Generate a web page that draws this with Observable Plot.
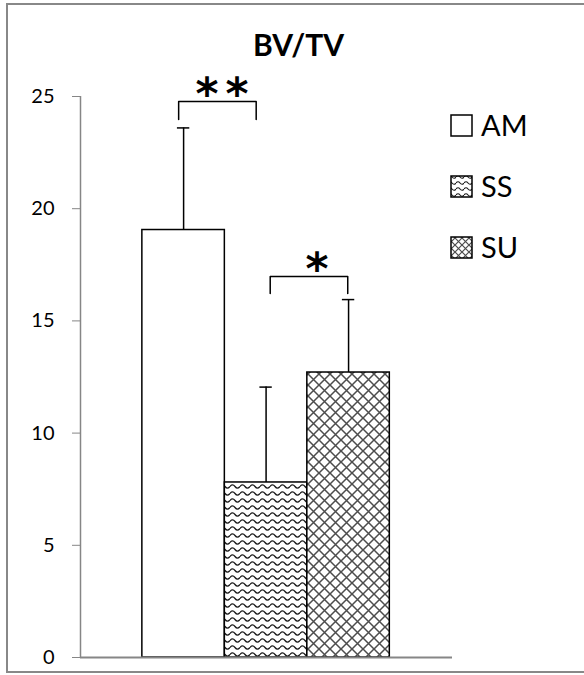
<!DOCTYPE html>
<html>
<head>
<meta charset="utf-8">
<script src="https://cdn.jsdelivr.net/npm/d3@7"></script>
<script src="https://cdn.jsdelivr.net/npm/@observablehq/plot@0.6"></script>
<style>
  html, body { margin: 0; padding: 0; background: #fff; }
  #chart svg { display: block; font-family: Lato, "Open Sans", sans-serif; }
</style>
</head>
<body>
<div id="chart"></div>
<script>
// ---- data ----
const categories = ["AM", "SS", "SU"];
const means = [19.05, 7.8, 12.7];
const errors = [4.55, 4.25, 3.25];
const yTicks = [0, 5, 10, 15, 20, 25];
const title = "BV/TV";
// significance brackets (x in category-index units)
const bracketFrom = [-0.06, 1.05];
const bracketTo = [0.88, 1.99];
const bracketTop = [24.78, 16.98];
const bracketLeg = [23.98, 16.22];
const bracketLabel = ["**", "*"];

// ---- derived tables ----
const bars = categories.map((c, i) => ({cat: c, i, mean: means[i], top: means[i] + errors[i]}));
const bracketPts = [];
bracketFrom.forEach((f, k) => {
  const t = bracketTo[k];
  bracketPts.push({k, x: f, y: bracketLeg[k]}, {k, x: f, y: bracketTop[k]},
                  {k, x: t, y: bracketTop[k]}, {k, x: t, y: bracketLeg[k]});
});
const bracketText = bracketLabel.map((l, k) => ({label: l, x: (bracketFrom[k] + bracketTo[k]) / 2, y: bracketTop[k]}));

const fills = ["white", "url(#pat-ss)", "url(#pat-su)"];
const xDomain = [-1.25, 3.26];
const capHalf = 0.075;

const chart = Plot.plot({
  width: 584,
  height: 675,
  marginLeft: 80,
  marginRight: 132,
  marginTop: 96,
  marginBottom: 18,
  style: {fontFamily: "Lato, 'Open Sans', sans-serif", background: "white", overflow: "visible"},
  x: {domain: xDomain, axis: null},
  y: {domain: [0, 25], axis: null},
  color: {domain: categories, range: fills},
  marks: [
    Plot.axisY({ticks: yTicks, tickSize: 8, tickPadding: 18, stroke: "#868686", fontSize: 20, color: "#000", label: null, tickFormat: d => d}),
    Plot.ruleX([xDomain[0]], {stroke: "#868686", strokeWidth: 1.5}),
    Plot.rectY(bars, {x1: d => d.i - 0.5, x2: d => d.i + 0.5, y: "mean", fill: "cat", stroke: "black", strokeWidth: 1.5}),
    Plot.ruleY([0], {stroke: "#868686", strokeWidth: 1.8}),
    Plot.ruleX(bars, {x: "i", y1: "mean", y2: "top", stroke: "black", strokeWidth: 1.5}),
    Plot.ruleY(bars, {y: "top", x1: d => d.i - capHalf, x2: d => d.i + capHalf, stroke: "black", strokeWidth: 1.5}),
    Plot.line(bracketPts, {x: "x", y: "y", z: "k", stroke: "black", strokeWidth: 1.5}),
    Plot.text(bracketText, {x: "x", y: "y", text: "label", fontFamily: "'DejaVu Sans'", fontSize: 44, fontWeight: "bold", dx: 8, dy: 8, lineAnchor: "bottom", fill: "black"}),
    Plot.text([title], {frameAnchor: "top", dx: 32, dy: -41, fontSize: 30, fontWeight: "bold", fill: "black", lineAnchor: "bottom"})
  ]
});

const svg = d3.select(chart);
svg.selectAll("text").filter(function() { return this.textContent === "**"; }).attr("letter-spacing", 7);

const defs = svg.insert("defs", ":first-child");
const ss = defs.append("pattern").attr("id", "pat-ss").attr("patternUnits", "userSpaceOnUse")
  .attr("width", 10).attr("height", 7);
ss.append("rect").attr("width", 10).attr("height", 7).attr("fill", "white");
ss.append("path").attr("d", "M0,3.5 Q2.5,0.3 5,3.5 T10,3.5").attr("fill", "none").attr("stroke", "#1a1a1a").attr("stroke-width", 1.3);
const su = defs.append("pattern").attr("id", "pat-su").attr("patternUnits", "userSpaceOnUse")
  .attr("width", 11).attr("height", 11);
su.append("rect").attr("width", 11).attr("height", 11).attr("fill", "white");
su.append("path").attr("d", "M0,0L11,11M11,0L0,11").attr("fill", "none").attr("stroke", "#4d4d4d").attr("stroke-width", 1.5);
const sl = defs.append("pattern").attr("id", "pat-su-s").attr("patternUnits", "userSpaceOnUse")
  .attr("width", 7).attr("height", 7);
sl.append("rect").attr("width", 7).attr("height", 7).attr("fill", "white");
sl.append("path").attr("d", "M0,0L7,7M7,0L0,7").attr("fill", "none").attr("stroke", "#4d4d4d").attr("stroke-width", 1.2);
const sw = defs.append("pattern").attr("id", "pat-ss-s").attr("patternUnits", "userSpaceOnUse")
  .attr("width", 8).attr("height", 6);
sw.append("rect").attr("width", 8).attr("height", 6).attr("fill", "white");
sw.append("path").attr("d", "M0,3 Q2,0.5 4,3 T8,3").attr("fill", "none").attr("stroke", "#1a1a1a").attr("stroke-width", 1.2);

// outer border
svg.append("rect").attr("x", 7).attr("y", 4).attr("width", 600).attr("height", 668)
  .attr("fill", "none").attr("stroke", "#888").attr("stroke-width", 2);

// legend
const legendFills = ["white", "url(#pat-ss-s)", "url(#pat-su-s)"];
const leg = svg.append("g").attr("font-family", "Lato, 'Open Sans', sans-serif").attr("text-anchor", "start");
categories.forEach((c, i) => {
  const cy = 125.5 + i * 61;
  leg.append("rect").attr("x", 451).attr("y", cy - 10.5).attr("width", 21).attr("height", 21)
    .attr("fill", legendFills[i]).attr("stroke", "black").attr("stroke-width", 1.5);
  leg.append("text").attr("x", 481).attr("y", cy).attr("dy", "0.36em").attr("font-size", 29)
    .attr("fill", "black").attr("text-anchor", "start").text(c);
});

document.getElementById("chart").appendChild(chart);
</script>
</body>
</html>
